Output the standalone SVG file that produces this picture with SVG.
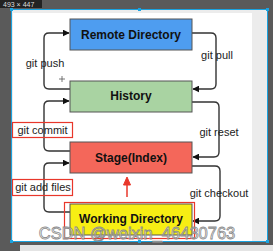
<svg xmlns="http://www.w3.org/2000/svg" width="273" height="251" viewBox="0 0 273 251">
<defs>
<style>
.box{stroke:#555;stroke-width:1}
.lbl{font-family:"Liberation Sans",Arial,sans-serif;font-size:12px;font-weight:bold;fill:#111;text-anchor:middle}
.txt{font-family:"Liberation Sans",Arial,sans-serif;font-size:11px;fill:#222;text-anchor:middle}
.conn{fill:none;stroke:#333;stroke-width:1.4;stroke-linejoin:round}
.hl{fill:none;stroke:#e8372b;stroke-width:1.2}
</style>
<marker id="ah" viewBox="0 0 10 10" refX="9" refY="5" markerWidth="7" markerHeight="7" orient="auto" markerUnits="userSpaceOnUse">
<path d="M0,0 L10,5 L0,10 z" fill="#111"/>
</marker>
</defs>
<rect x="0" y="0" width="273" height="251" fill="#5a5a5a"/>
<rect x="0" y="0" width="42" height="8" fill="#222"/>
<text x="3" y="6.5" font-family="Liberation Sans,Arial,sans-serif" font-size="7" fill="#ddd">493 × 447</text>
<rect x="11" y="9" width="257" height="233" fill="#ececec"/>
<rect x="13" y="13" width="239" height="228" fill="#ffffff"/>
<line x1="11" y1="9.5" x2="268" y2="9.5" stroke="#1aa3e0" stroke-width="1"/>
<line x1="11" y1="241.5" x2="268" y2="241.5" stroke="#1aa3e0" stroke-width="1"/>
<line x1="11.5" y1="9" x2="11.5" y2="242" stroke="#1aa3e0" stroke-width="1"/>
<line x1="267.5" y1="9" x2="267.5" y2="242" stroke="#1aa3e0" stroke-width="1"/>
<g fill="#1aa3e0"><rect x="10" y="8" width="3" height="3"/><rect x="138" y="8" width="3" height="3"/><rect x="266" y="8" width="3" height="3"/><rect x="10" y="240" width="3" height="3"/><rect x="138" y="240" width="3" height="3"/><rect x="266" y="240" width="3" height="3"/></g>
<rect x="20" y="245" width="253" height="6" fill="#e4e4e4"/>
<g id="connectors">
<path class="conn" d="M70,89 H49 Q44,89 44,84 V38 Q44,33 49,33 H69" marker-end="url(#ah)"/>
<path class="conn" d="M70,151 H49 Q44,151 44,146 V106 Q44,101 49,101 H69" marker-end="url(#ah)"/>
<path class="conn" d="M70,212 H49 Q44,212 44,207 V168 Q44,163 49,163 H69" marker-end="url(#ah)"/>
<path class="conn" d="M192,33 H211 Q216,33 216,38 V84 Q216,89 211,89 H193" marker-end="url(#ah)"/>
<path class="conn" d="M192,102 H214 Q219,102 219,107 V152 Q219,157 214,157 H193" marker-end="url(#ah)"/>
<path class="conn" d="M192,166 H215 Q220,166 220,171 V216 Q220,221 215,221 H193" marker-end="url(#ah)"/>
</g>
<g id="remote"><rect class="box" x="70" y="19" width="122" height="31" fill="#4e9df0"/><text class="lbl" x="131" y="39">Remote Directory</text></g>
<g id="history"><rect class="box" x="70" y="81" width="122" height="31" fill="#a9d3a2"/><text class="lbl" x="131" y="100">History</text></g>
<g id="stage"><rect class="box" x="70" y="142" width="122" height="31" fill="#f4675a"/><text class="lbl" x="131" y="162">Stage(Index)</text></g>
<g id="working"><rect class="box" x="70" y="204" width="122" height="31" fill="#f7ee14"/><text class="lbl" x="131" y="223">Working Directory</text></g>
<g id="labels">
<text class="txt" x="45" y="67">git push</text>
<text class="txt" x="217" y="59">git pull</text>
<text class="txt" x="219" y="136">git reset</text>
<text class="txt" x="219" y="197">git checkout</text>
<rect class="hl" x="12.5" y="122.5" width="60" height="15" fill="#fff"/>
<text class="txt" x="42.5" y="134">git commit</text>
<rect class="hl" x="12.5" y="179.5" width="60" height="16" fill="#fff"/>
<text class="txt" x="43" y="191">git add files</text>
</g>
<rect class="hl" x="64.5" y="202.5" width="130" height="36"/>
<g stroke="#e8372b" fill="#e8372b"><line x1="127" y1="197" x2="127" y2="184" stroke-width="1.5"/><path d="M123.5,185 L127,177 L130.5,185 z"/></g>
<g stroke="#555" stroke-width="0.8"><line x1="59" y1="79" x2="65" y2="79"/><line x1="62" y1="76" x2="62" y2="82"/></g>
<text x="137" y="239" text-anchor="middle" font-family="Liberation Sans,Arial,sans-serif" font-size="16.5" fill="#ffffff" fill-opacity="0.5" stroke="#8a8a8a" stroke-width="0.8">CSDN @weixin_46430763</text>
</svg>
